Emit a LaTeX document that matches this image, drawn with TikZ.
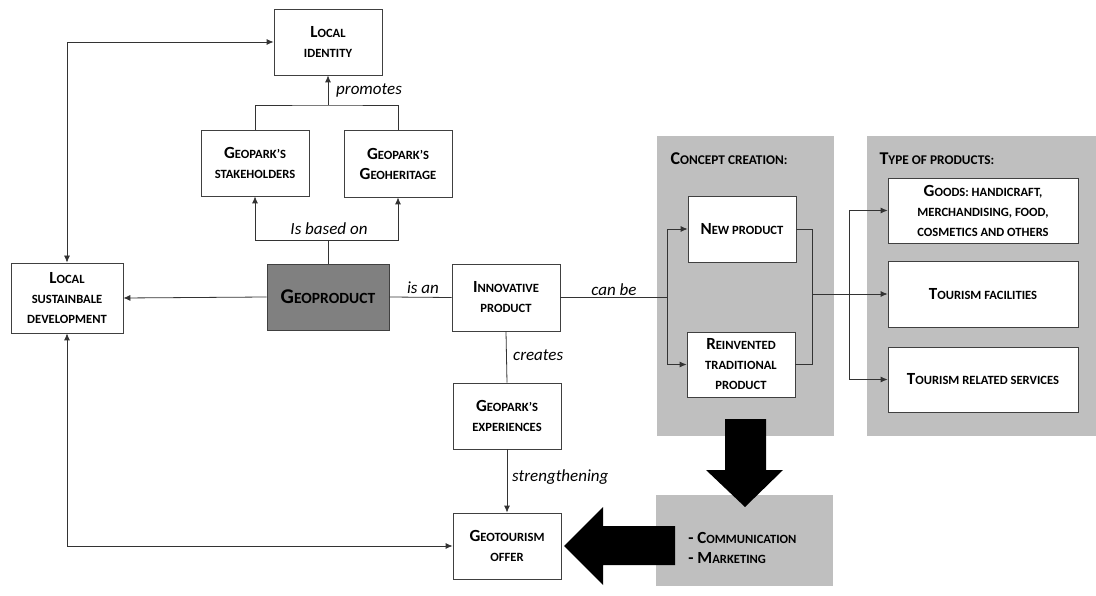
\documentclass[tikz,border=0pt]{standalone}
\usepackage{fontspec}
\setmainfont{Carlito}
\usetikzlibrary{arrows.meta}
\makeatletter
\newcommand\smc[1]{{\fontsize{\fpeval{0.74*\f@size}}{0pt}\selectfont\MakeUppercase{#1}}}
\makeatother

\begin{document}
\begin{tikzpicture}[x=1pt,y=-1pt,
    >={Latex[length=7pt,width=6pt]},
    box/.style={draw=black!75,line width=0.8pt,fill=white,align=center,
      font=\fontsize{17}{20}\selectfont\bfseries,inner sep=2pt},
    ttl/.style={font=\fontsize{18}{20}\selectfont\bfseries},
    panel/.style={fill=black!25,draw=none},
    lbl/.style={font=\fontsize{17}{19}\selectfont\itshape,inner sep=1pt}]
    \useasboundingbox (0,0) rectangle (1096,596);
    %% Draw the grey panels
    \node[panel,minimum width=177pt,minimum height=300pt] (concept) at (745.5,286) {};
    \node[panel,minimum width=229pt,minimum height=300pt] (types) at (981.5,286) {};
    \node[panel,minimum width=177pt,minimum height=91pt] (promo) at (744.5,540.5) {};
    %% Draw the big arrows
    \fill (725,419) -- (766,419) -- (766,470) -- (783,470) -- (745,507)
      -- (706,470) -- (725,470) -- cycle;
    \fill (675,526) -- (603,526) -- (603,507) -- (564,546) -- (603,585)
      -- (603,565) -- (675,565) -- cycle;
    %% Draw the nodes
    \node[box,minimum width=108pt,minimum height=66pt] (identity) at (328,42) {L\smc{ocal}\\\smc{identity}};
    \node[box,minimum width=108pt,minimum height=66pt] (holders) at (255,163) {G\smc{eopark’s}\\\smc{stakeholders}};
    \node[box,minimum width=108pt,minimum height=67pt] (heritage) at (398,163.5) {G\smc{eopark’s}\\G\smc{eoheritage}};
    \node[box,minimum width=112pt,minimum height=70pt] (develop) at (67,298) {L\smc{ocal}\\\smc{sustainbale}\\\smc{development}};
    \node[box,fill=black!50,minimum width=122pt,minimum height=66pt,
      font=\fontsize{21}{22}\selectfont\bfseries] (geoprod) at (328,297) {G\smc{eoproduct}};
    \node[box,minimum width=108pt,minimum height=67pt] (innov) at (506,297.5) {I\smc{nnovative}\\\smc{product}};
    \node[box,minimum width=108pt,minimum height=66pt] (exper) at (507,416) {G\smc{eopark’s}\\\smc{experiences}};
    \node[box,minimum width=108pt,minimum height=66pt] (offer) at (507,546) {G\smc{eotourism}\\\smc{offer}};
    \node[box,minimum width=108pt,minimum height=66pt] (newprod) at (742,229) {N\smc{ew product}};
    \node[box,minimum width=108pt,minimum height=65pt] (reinv) at (741,364.5) {R\smc{einvented}\\\smc{traditional}\\\smc{product}};
    \node[box,minimum width=190pt,minimum height=65pt] (goods) at (983,210.5) {G\smc{oods: handicraft,}\\\smc{merchandising, food,}\\\smc{cosmetics and others}};
    \node[box,minimum width=190pt,minimum height=66pt] (facil) at (983,294) {T\smc{ourism facilities}};
    \node[box,minimum width=190pt,minimum height=65pt] (serv) at (983,379.5) {T\smc{ourism related services}};
    %% Draw the panel titles
    \node[ttl,anchor=west] (ctitle) at (667,159) {C\smc{oncept creation:}};
    \node[ttl,anchor=west] (ttitle) at (876,159) {T\smc{ype of products:}};
    \node[box,draw=none,fill=none,anchor=west,align=left] (ptitle) at (686,548) {- C\smc{ommunication}\\- M\smc{arketing}};
    %% Draw the edge labels
    \node[lbl,anchor=west] (lprom) at (335,90) {promotes};
    \node[lbl] (lbase) at (329,229) {Is based on};
    \node[lbl] (lisan) at (423,288) {is an};
    \node[lbl] (lcan) at (614,290) {can be};
    \node[lbl,anchor=west] (lcreat) at (512,355) {creates};
    \node[lbl,anchor=west] (lstrong) at (511,477) {strengthening};
    %% Draw the branch points
    \coordinate (prom) at (328,105);
    \coordinate (base) at (328,240);
    \coordinate (split) at (667,297.5);
    \coordinate (merge) at (812,294);
    \coordinate (branch) at (849,294);
    %% Draw the edges
    \begin{scope}[every path/.style={draw=black!80,line width=0.8pt}]
      \draw[<->] (develop.north) |- (identity.west);
      \draw[<->] (develop.south) |- (offer.west);
      \draw[->] (geoprod.west) -- (develop.east);
      \draw (holders.north) |- (prom) -| (heritage.north);
      \draw[->] (prom) -- (identity.south);
      \draw (geoprod.north) -- (base);
      \draw[->] (base) -| (holders.south);
      \draw[->] (base) -| (heritage.south);
      \draw (geoprod.east) -- (innov.west);
      \draw (innov.east) -- (split);
      \draw[->] (split) |- (newprod.west);
      \draw[->] (split) |- (reinv.west);
      \draw (newprod.east) -| (merge);
      \draw (reinv.east) -| (merge);
      \draw[->] (merge) -- (facil.west);
      \draw[->] (branch) |- (goods.west);
      \draw[->] (branch) |- (serv.west);
      \draw (innov.south) -- (exper.north);
      \draw[->] (exper.south) -- (offer.north);
    \end{scope}
\end{tikzpicture}
\end{document}
